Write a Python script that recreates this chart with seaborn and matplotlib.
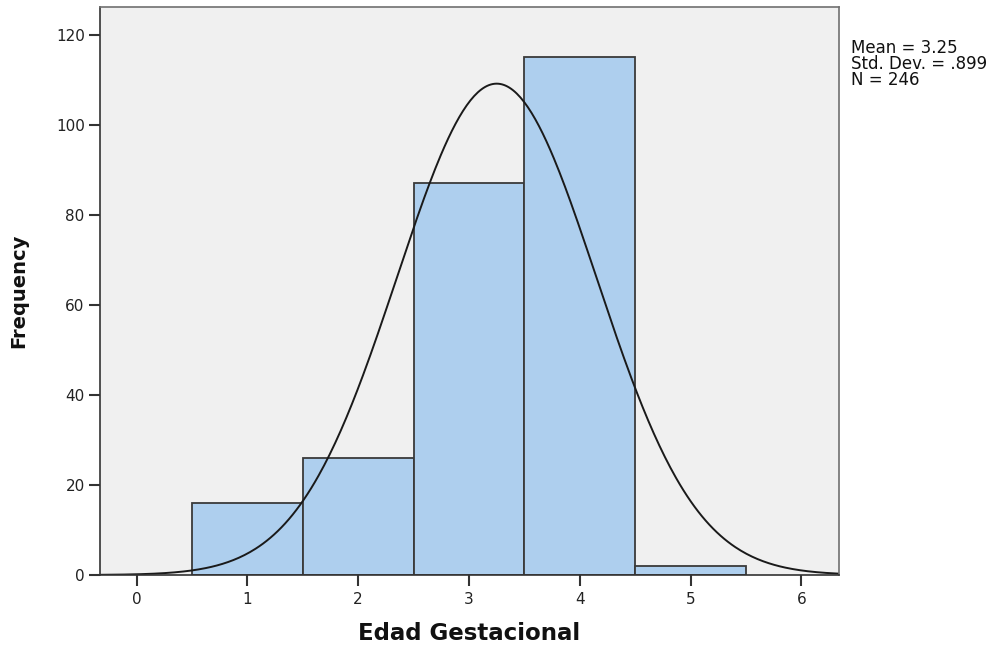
import numpy as np
import pandas as pd
import matplotlib
matplotlib.use("Agg")
import matplotlib.pyplot as plt
import seaborn as sns

categories = [1, 2, 3, 4, 5]
counts = [16, 26, 87, 115, 2]
x_ticks = [0, 1, 2, 3, 4, 5, 6]
y_ticks = [0, 20, 40, 60, 80, 100, 120]
mean_val = 3.25
sd_val = 0.899
n_val = 246

sns.set_theme(style="white")
plt.rcParams['font.family'] = ['DejaVu Sans']

fig = plt.figure(figsize=(9.92, 6.47), dpi=100)
ax = fig.add_axes([0.1008, 0.1113, 0.7450, 0.8779])
ax.set_facecolor('#f0f0f0')

df = pd.DataFrame({"x": categories, "w": counts})
sns.histplot(data=df, x="x", weights="w", bins=5, binrange=(0.5, 5.5),
             color='#aecfee', alpha=1.0, edgecolor='#3a3a3a', linewidth=1.3, ax=ax)

xs = np.linspace(-0.33, 6.34, 400)
ys = n_val * 1.0 * np.exp(-0.5 * ((xs - mean_val) / sd_val) ** 2) / (sd_val * np.sqrt(2 * np.pi))
sns.lineplot(x=xs, y=ys, color='#1a1a1a', linewidth=1.4, ax=ax)

ax.set_xlim(-0.33, 6.34)
ax.set_ylim(0, 126.2)
ax.set_xticks(x_ticks)
ax.set_yticks(y_ticks)
ax.tick_params(axis='both', direction='out', length=8, width=1.5, color='#333333',
               labelsize=11, labelcolor='#222222', pad=3, bottom=True, left=True)
ax.tick_params(axis='x', pad=4)
for s in ax.spines.values():
    s.set_color('#707070')
    s.set_linewidth(1.2)
ax.spines['left'].set_color('#333333')
ax.spines['bottom'].set_color('#333333')

ax.set_xlabel("Edad Gestacional", fontsize=16.5, fontweight='bold', labelpad=11, color='#111111')
ax.set_ylabel("Frequency", fontsize=14, fontweight='bold', labelpad=20, color='#111111')

fig.text(0.858, 0.94, "Mean = 3.25\nStd. Dev. = .899\nN = 246", fontsize=12,
         va='top', ha='left', linespacing=0.85, color='#111111')

fig.savefig("out.png", dpi=100)
